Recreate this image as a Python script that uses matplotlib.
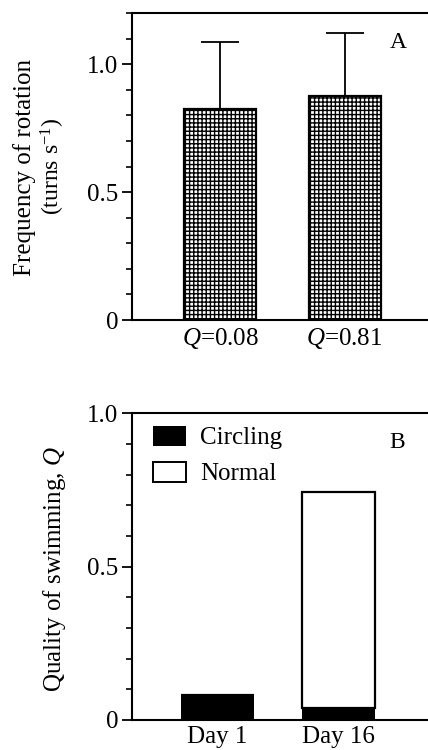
import matplotlib
matplotlib.use("Agg")
import matplotlib.pyplot as plt
from matplotlib.ticker import MultipleLocator

plt.rcParams['font.family'] = ['Liberation Serif', 'DejaVu Serif']
plt.rcParams['mathtext.fontset'] = 'custom'
plt.rcParams['mathtext.rm'] = 'Liberation Serif'
plt.rcParams['mathtext.it'] = 'Liberation Serif:italic'
plt.rcParams['hatch.linewidth'] = 1.0

# panel A data
groupsA = ["$Q$=0.08", "$Q$=0.81"]
freq = [0.824, 0.875]
freq_err = [0.262, 0.245]

# panel B data
days = ["Day 1", "Day 16"]
circling = [0.08, 0.04]
normal = [0.0, 0.705]

fs = 18

fig = plt.figure(figsize=(4.28, 7.5), dpi=100)

def style_axis(ax, ymax):
	ax.spines['right'].set_visible(False)
	for s in ['left', 'top', 'bottom']:
		ax.spines[s].set_linewidth(1.5)
	ax.set_ylim(0, ymax)
	ax.yaxis.set_minor_locator(MultipleLocator(0.1))
	ax.set_yticks([0, 0.5, 1.0])
	ax.set_yticklabels(["0", "0.5", "1.0"])
	ax.tick_params(axis='y', which='major', direction='out', length=7, width=1.3, labelsize=fs, pad=3)
	ax.tick_params(axis='y', which='minor', direction='out', length=4, width=1.2)
	ax.tick_params(axis='x', length=0, labelsize=fs, pad=4)

# ---- panel A
axA = fig.add_axes([132/428, 1-320/750, 1-132/428, (320-13)/750])
xA = [1, 2]
axA.bar(xA, freq, width=0.578, color='white', edgecolor='black', linewidth=1.6, hatch='++++', zorder=2)
axA.errorbar(xA, freq, yerr=[[0, 0], freq_err], fmt='none', ecolor='black', elinewidth=1.3, capsize=14, capthick=1.3, zorder=1)
axA.set_xlim(0.293, 2.67)
style_axis(axA, 1.2)
axA.set_xticks(xA)
axA.set_xticklabels(groupsA)

fig.text(25/428, 1-167/750, "Frequency of rotation", rotation=90, ha='center', va='center', fontsize=fs)
fig.text(53/428, 1-166/750, "(turns s$^{-1}$)", rotation=90, ha='center', va='center', fontsize=fs-1)
fig.text(398/428, 1-43/750, "A", ha='center', va='center', fontsize=fs-1)

# ---- panel B
axB = fig.add_axes([132/428, 1-720/750, 1-132/428, (720-413.3)/750])
xB = [1, 2]
b1 = axB.bar(xB, circling, width=0.606, color='black', edgecolor='black', linewidth=0, label='Circling', zorder=2)
b2 = axB.bar(xB, normal, bottom=circling, width=0.606, color='white', edgecolor='black', linewidth=1.6, label='Normal', zorder=1)
axB.set_xlim(0.29, 2.747)
style_axis(axB, 1.0)
axB.set_xticks(xB)
axB.set_xticklabels(days)

leg = axB.legend(handles=[b1, b2], loc='upper left', bbox_to_anchor=(0.07, 0.96), frameon=False,
	fontsize=fs, handlelength=1.35, handleheight=0.85, handletextpad=0.55, labelspacing=0.5,
	borderpad=0, borderaxespad=0)
leg.legend_handles[1].set_linewidth(1.4)

fig.text(55/428, 1-569/750, "Quality of swimming, $Q$", rotation=90, ha='center', va='center', fontsize=fs)
fig.text(397/428, 1-442/750, "B", ha='center', va='center', fontsize=fs-1)

fig.savefig("out.png", dpi=100)
